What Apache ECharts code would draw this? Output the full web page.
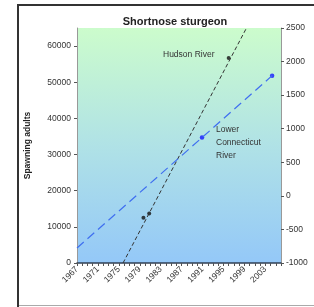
<!DOCTYPE html>
<html><head><meta charset="utf-8">
<script src="https://cdn.jsdelivr.net/npm/echarts@6/dist/echarts.min.js"></script>
<style>html,body{margin:0;padding:0;background:#fff}#c{width:314px;height:307px}</style>
</head><body><div id="c"></div>
<script>
// Data
const hudsonPoints = [[1979.7, 12500], [1980.8, 13700], [1996.0, 56700]];
const hudsonTrend = [[1975.8, 0], [1999.4, 65000]];
const connPoints = [[1990.9, 870], [2004.3, 1790]];
const connTrend = [[1967, -777], [2004.3, 1790]];
const xMin = 1967, xMax = 2006, labelStep = 4;

const chart = echarts.init(document.getElementById('c'));
const font = 'Arial, "Liberation Sans", sans-serif';
chart.setOption({
  animation: false,
  title: {text: 'Shortnose sturgeon', left: 170, top: 11, textAlign: 'center',
    textStyle: {fontFamily: font, fontSize: 11, fontWeight: 'bold', color: '#222'}},
  grid: {left: 77, right: 33, top: 28, bottom: 44, show: true, borderWidth: 0,
    backgroundColor: new echarts.graphic.LinearGradient(0, 0, 0, 1, [
      {offset: 0, color: '#ccfccc'}, {offset: 0.5, color: '#b0e2e6'}, {offset: 1, color: '#94c8f8'}])},
  xAxis: {type: 'value', min: xMin, max: xMax, interval: 1,
    axisLine: {lineStyle: {color: '#2f3f55', width: 1.5}},
    axisTick: {length: 3, lineStyle: {color: '#555'}},
    splitLine: {show: false},
    axisLabel: {rotate: 45, margin: 5, fontFamily: font, fontSize: 8.5, color: '#333',
      formatter: v => ((v - xMin) % labelStep === 0 ? String(v) : '')}},
  yAxis: [
    {type: 'value', min: 0, max: 65000, interval: 10000, name: 'Spawning adults',
     nameLocation: 'middle', nameGap: 45, nameRotate: 90,
     nameTextStyle: {fontFamily: font, fontSize: 8.5, fontWeight: 'bold', color: '#222'},
     axisLine: {show: true, lineStyle: {color: '#999'}},
     axisTick: {show: true, length: 3, lineStyle: {color: '#555'}},
     splitLine: {show: false},
     axisLabel: {margin: 6, fontFamily: font, fontSize: 8.5, color: '#333', showMaxLabel: false,
       formatter: v => String(v)}},
    {type: 'value', min: -1000, max: 2500, interval: 500, position: 'right',
     axisLine: {show: true, lineStyle: {color: '#999'}},
     axisTick: {show: true, length: 3, lineStyle: {color: '#555'}},
     splitLine: {show: false},
     axisLabel: {margin: 5, fontFamily: font, fontSize: 8.5, color: '#333',
       formatter: v => String(v)}}
  ],
  series: [
    {type: 'line', data: hudsonTrend, yAxisIndex: 0, symbol: 'none', silent: true,
     lineStyle: {color: '#333', width: 1, type: [4, 2.5]}},
    {type: 'scatter', data: hudsonPoints, yAxisIndex: 0, symbolSize: 4,
     itemStyle: {color: '#111'}},
    {type: 'line', data: connTrend, yAxisIndex: 1, symbol: 'none', silent: true,
     lineStyle: {color: '#3f6ff0', width: 1.2, type: [9, 5]}},
    {type: 'scatter', data: connPoints, yAxisIndex: 1, symbolSize: 4.5,
     itemStyle: {color: '#1515ff'}}
  ],
  graphic: [
    {type: 'line', shape: {x1: 18, y1: 5, x2: 314, y2: 5}, style: {stroke: '#333', lineWidth: 2}},
    {type: 'line', shape: {x1: 18, y1: 4, x2: 18, y2: 307}, style: {stroke: '#333', lineWidth: 2}},
    {type: 'line', shape: {x1: 19, y1: 305.5, x2: 314, y2: 305.5}, style: {stroke: '#aaa', lineWidth: 1}},
    {type: 'text', left: 163, top: 50, style: {text: 'Hudson River', font: '8.5px ' + font, fill: '#333'}},
    {type: 'text', left: 216, top: 123, style: {text: 'Lower\nConnecticut\nRiver', font: '8.5px ' + font, fill: '#333', lineHeight: 13}}
  ]
});
</script></body></html>
